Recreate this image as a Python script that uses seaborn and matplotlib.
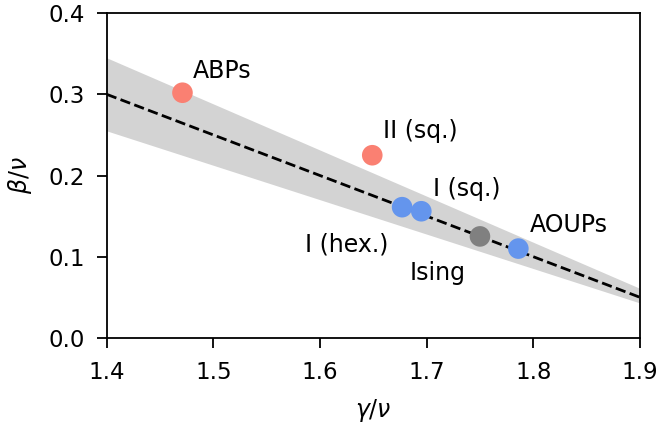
import numpy as np
import pandas as pd
import matplotlib
matplotlib.use("Agg")
import matplotlib.pyplot as plt
import seaborn as sns

# -------------------- DATA --------------------
names = ["ABPs", "II (sq.)", "I (hex.)", "I (sq.)", "Ising", "AOUPs"]
gamma_nu = [1.471, 1.649, 1.677, 1.695, 1.750, 1.786]
beta_nu = [0.302, 0.225, 0.161, 0.156, 0.125, 0.110]
groups = ["red", "red", "blue", "blue", "gray", "blue"]

# label anchor positions (data coords)
label_x = [1.481, 1.659, 1.586, 1.706, 1.684, 1.797]
label_y = [0.320, 0.246, 0.107, 0.175, 0.071, 0.130]

# hyperscaling line and shaded band
line_x = [1.4, 1.9]
line_y = [0.30, 0.05]
band_upper = [0.345, 0.061]
band_lower = [0.255, 0.043]

df = pd.DataFrame({"gamma_nu": gamma_nu, "beta_nu": beta_nu, "group": groups})
palette = {"red": "#fa8072", "blue": "#6495ed", "gray": "#808080"}

# -------------------- PLOT --------------------
sns.set_style("ticks")
plt.rcParams["font.family"] = ["DejaVu Sans"]
plt.rcParams["font.size"] = 17
for key in ["text.color", "axes.labelcolor", "xtick.color", "ytick.color", "axes.edgecolor"]:
    plt.rcParams[key] = "black"

fig = plt.figure(figsize=(6.59, 4.25), dpi=100)
ax = fig.add_axes([0.162, 0.205, 0.809, 0.764])

ax.fill_between(line_x, band_lower, band_upper, color="lightgray", lw=0, zorder=1)
sns.lineplot(x=line_x, y=line_y, ax=ax, color="black", linestyle="--", lw=2, zorder=2)
sns.scatterplot(data=df, x="gamma_nu", y="beta_nu", hue="group", palette=palette,
                s=220, edgecolor="none", legend=False, ax=ax, zorder=3)

for name, lx, ly in zip(names, label_x, label_y):
    ax.text(lx, ly, name, fontsize=17, ha="left", va="baseline")

ax.set_xlim(1.4, 1.9)
ax.set_ylim(0, 0.4)
ax.set_xticks([1.4, 1.5, 1.6, 1.7, 1.8, 1.9])
ax.set_yticks([0.0, 0.1, 0.2, 0.3, 0.4])
ax.tick_params(labelsize=16.5, length=7, width=1.3, direction="out")
ax.tick_params(axis="x", pad=10)
ax.tick_params(axis="y", pad=8.8)
for sp in ax.spines.values():
    sp.set_linewidth(1.3)
ax.set_xlabel(r"$\gamma/\nu$", fontsize=17, labelpad=9)
ax.set_ylabel(r"$\beta/\nu$", fontsize=17, labelpad=10)

fig.savefig("out.png", dpi=100)
